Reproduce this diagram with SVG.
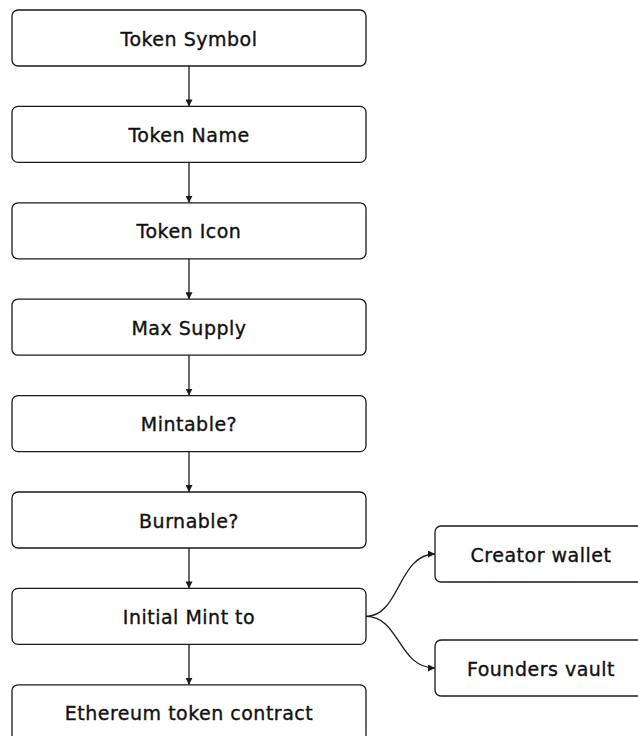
<svg xmlns="http://www.w3.org/2000/svg" width="638" height="736" viewBox="0 0 638 736">
  <style>
    .box { fill: #ffffff; stroke: #1a1a1a; stroke-width: 1.3; }
    .label { font-family: "DejaVu Sans", "Noto Sans", sans-serif; font-size: 19px; letter-spacing: 0.5px; fill: #111111; stroke: #111111; stroke-width: 0.35; text-anchor: middle; dominant-baseline: central; }
    .edge { fill: none; stroke: #1a1a1a; stroke-width: 1.3; marker-end: url(#arrow); }
  </style>
  <defs>
    <marker id="arrow" viewBox="0 0 10 10" refX="10" refY="5" markerWidth="7" markerHeight="7" markerUnits="userSpaceOnUse" orient="auto">
      <path d="M0,0 L10,5 L0,10 Z" fill="#1a1a1a"/>
    </marker>
  </defs>
  <rect width="638" height="736" fill="#ffffff"/>

  <g id="connectors">
    <line class="edge" x1="189" y1="66" x2="189" y2="106.4"/>
    <line class="edge" x1="189" y1="162.4" x2="189" y2="202.8"/>
    <line class="edge" x1="189" y1="258.8" x2="189" y2="299.2"/>
    <line class="edge" x1="189" y1="355.2" x2="189" y2="395.6"/>
    <line class="edge" x1="189" y1="451.6" x2="189" y2="492"/>
    <line class="edge" x1="189" y1="548" x2="189" y2="588.4"/>
    <line class="edge" x1="189" y1="644.4" x2="189" y2="684.8"/>
    <path class="edge" d="M366,616.4 C400,616.4 398,554 435,554"/>
    <path class="edge" d="M366,616.4 C400,616.4 398,668 435,668"/>
  </g>

  <g id="token-symbol">
    <rect class="box" x="12" y="10" width="354" height="56" rx="6"/>
    <text class="label" x="189" y="38.5">Token Symbol</text>
  </g>
  <g id="token-name">
    <rect class="box" x="12" y="106.4" width="354" height="56" rx="6"/>
    <text class="label" x="189" y="134.9">Token Name</text>
  </g>
  <g id="token-icon">
    <rect class="box" x="12" y="202.8" width="354" height="56" rx="6"/>
    <text class="label" x="189" y="231.3">Token Icon</text>
  </g>
  <g id="max-supply">
    <rect class="box" x="12" y="299.2" width="354" height="56" rx="6"/>
    <text class="label" x="189" y="327.7">Max Supply</text>
  </g>
  <g id="mintable">
    <rect class="box" x="12" y="395.6" width="354" height="56" rx="6"/>
    <text class="label" x="189" y="424.1">Mintable?</text>
  </g>
  <g id="burnable">
    <rect class="box" x="12" y="492" width="354" height="56" rx="6"/>
    <text class="label" x="189" y="520.5">Burnable?</text>
  </g>
  <g id="initial-mint">
    <rect class="box" x="12" y="588.4" width="354" height="56" rx="6"/>
    <text class="label" x="189" y="616.9">Initial Mint to</text>
  </g>
  <g id="ethereum-contract">
    <rect class="box" x="12" y="684.8" width="354" height="56" rx="6"/>
    <text class="label" x="189" y="713.3">Ethereum token contract</text>
  </g>
  <g id="creator-wallet">
    <rect class="box" x="435" y="526" width="212" height="56" rx="6"/>
    <text class="label" x="541" y="554.5">Creator wallet</text>
  </g>
  <g id="founders-vault">
    <rect class="box" x="435" y="640" width="212" height="56" rx="6"/>
    <text class="label" x="541" y="668.5">Founders vault</text>
  </g>
</svg>
